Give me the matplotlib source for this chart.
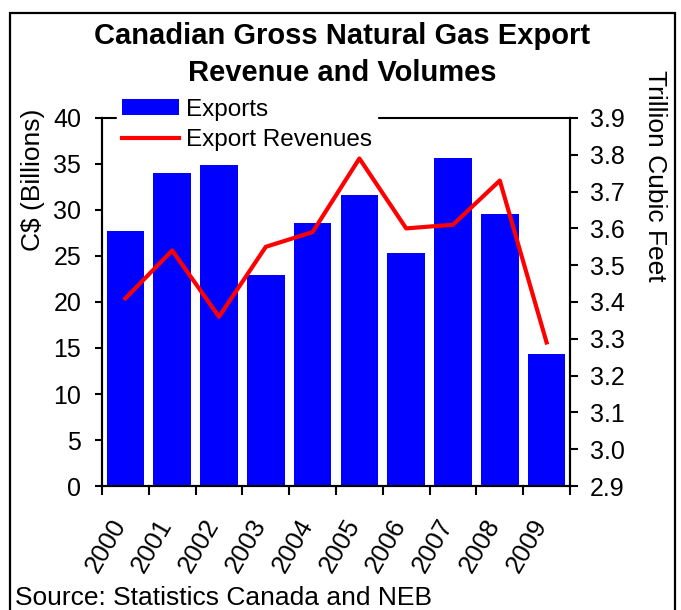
import matplotlib
matplotlib.use("Agg")
import matplotlib.pyplot as plt
import matplotlib.transforms as mtransforms
from matplotlib.patches import Rectangle
from matplotlib.lines import Line2D
from matplotlib.patches import Patch

years = ["2000", "2001", "2002", "2003", "2004", "2005", "2006", "2007", "2008", "2009"]
exports_bn = [27.7, 34.0, 34.9, 22.9, 28.6, 31.6, 25.3, 35.7, 29.6, 14.4]
revenues_tcf = [3.41, 3.54, 3.36, 3.55, 3.59, 3.79, 3.60, 3.61, 3.73, 3.29]
left_ticks = [0, 5, 10, 15, 20, 25, 30, 35, 40]
right_ticks = [2.9, 3.0, 3.1, 3.2, 3.3, 3.4, 3.5, 3.6, 3.7, 3.8, 3.9]

plt.rcParams['font.family'] = ['Liberation Sans', 'DejaVu Sans']

W, H = 681, 610
fig = plt.figure(figsize=(W / 100, H / 100), dpi=100)

def fx(px):
    return px / W

def fy(py):
    return 1 - py / H

ax1 = fig.add_axes([fx(102), fy(486), fx(570) - fx(102), fy(118) - fy(486)])
ax2 = ax1.twinx()

x = list(range(len(years)))
ax1.bar(x, exports_bn, width=0.8, color='#0000FF', zorder=2)
ax1.set_xlim(-0.5, len(years) - 0.5)
ax1.set_ylim(0, 40)
ax1.set_yticks(left_ticks)
ax1.set_yticklabels([str(v) for v in left_ticks])

ax2.plot(x, revenues_tcf, color='#FF0000', linewidth=3.0, zorder=3)
ax2.set_ylim(2.9, 3.9)
ax2.set_yticks(right_ticks)
ax2.set_yticklabels([f"{v:.1f}" for v in right_ticks])

# x ticks: marks at category boundaries, labels at centres
ax1.set_xticks(x)
ax1.set_xticklabels(years, rotation=60, ha='right', va='top', fontsize=18.5)
ax1.set_xticks([i - 0.5 for i in range(len(years) + 1)], minor=True)
ax1.tick_params(axis='x', which='major', length=0, pad=21)
ax1.tick_params(axis='x', which='minor', length=6.5, width=1.5, direction='out')
ax1.tick_params(axis='y', length=5, width=1.5, direction='out', pad=10, labelsize=18)
ax2.tick_params(axis='y', length=5.5, width=1.5, direction='out', pad=9, labelsize=18)

offset = mtransforms.ScaledTranslation(5 / 100, 0, fig.dpi_scale_trans)
for lbl in ax1.get_xticklabels():
    lbl.set_transform(lbl.get_transform() + offset)

for sp in ax1.spines.values():
    sp.set_linewidth(1.5)
for sp in ax2.spines.values():
    sp.set_linewidth(1.5)
ax2.spines['top'].set_visible(False)

handles = [Patch(facecolor='#0000FF', edgecolor='none'),
           Line2D([0], [0], color='#FF0000', linewidth=3)]
leg = ax1.legend(handles, ["Exports", "Export Revenues"], loc='upper left',
                 bbox_to_anchor=(fx(117), fy(94)), bbox_transform=fig.transFigure,
                 frameon=True, fancybox=False, framealpha=1, edgecolor='white',
                 facecolor='white', fontsize=17.5, handlelength=2.35, handleheight=0.65,
                 handletextpad=0.3, labelspacing=0.35, borderpad=0.2, borderaxespad=0)
leg.set_zorder(10)

fig.text(fx(342), fy(44), "Canadian Gross Natural Gas Export", ha='center', va='baseline',
         fontsize=21, fontweight='bold')
fig.text(fx(342), fy(81), "Revenue and Volumes", ha='center', va='baseline',
         fontsize=21, fontweight='bold')

fig.text(fx(33), fy(180), "C$ (Billions)", rotation=90, ha='center', va='center', fontsize=19)
fig.text(fx(655), fy(176), "Trillion Cubic Feet", rotation=-90, ha='center', va='center', fontsize=19)

fig.text(fx(15), fy(605), "Source: Statistics Canada and NEB", ha='left', va='baseline', fontsize=19)

fig.patches.append(Rectangle((fx(9.5), -0.05), fx(674.5) - fx(9.5), fy(12.5) + 0.05,
                             transform=fig.transFigure, fill=False, edgecolor='black',
                             linewidth=1.6, zorder=0))

fig.savefig("out.png", dpi=100)
